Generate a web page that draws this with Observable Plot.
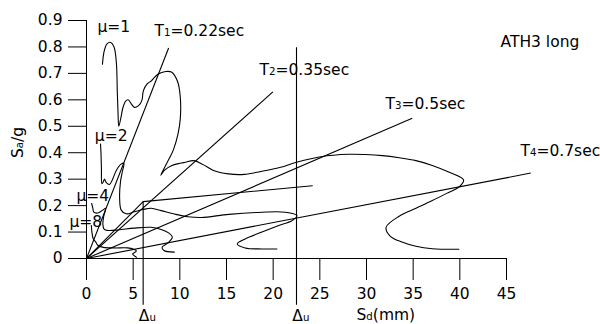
<!DOCTYPE html>
<html><head><meta charset="utf-8">
<script src="https://cdn.jsdelivr.net/npm/d3@7"></script>
<script src="https://cdn.jsdelivr.net/npm/@observablehq/plot@0.6"></script>
<style>body{margin:0;background:#fff}</style>
</head><body><div id="chart"></div>
<script>
// ---- data ----
const xTicks = [0, 5, 10, 15, 20, 25, 30, 35, 40, 45];
const xTickLabels = ["0", "5", "10", "15", "20", "25", "30", "35", "40", "45"];
const yTicks = [0, 0.1, 0.2, 0.3, 0.4, 0.5, 0.6, 0.7, 0.8, 0.9];
const yTickLabels = ["0", "0.1", "0.2", "0.3", "0.4", "0.5", "0.6", "0.7", "0.8", "0.9"];

// demand spectra [Sd (mm), Sa/g]
const mu1 = [[1.71,0.735],[1.9,0.785],[2.2,0.812],[2.6,0.817],[2.95,0.8],[3.2,0.74],[3.3,0.63],[3.38,0.55],[3.46,0.5],[3.7,0.535],[3.9,0.57],[4.2,0.595],[4.45,0.6],[4.8,0.585],[5.1,0.572],[5.4,0.574],[5.75,0.585],[5.95,0.6],[6.1,0.635],[6.5,0.66],[6.95,0.672],[7.65,0.697],[8.5,0.707],[9.1,0.705],[9.75,0.67],[10.05,0.61],[10.05,0.53],[9.8,0.47],[9.3,0.41],[8.6,0.36],[7.95,0.315],[8.4,0.335],[9.1,0.351],[10.0,0.36],[10.6,0.364],[11.5,0.37],[12.5,0.355],[13.6,0.333],[15.2,0.32],[16.9,0.318],[18.8,0.33],[20.8,0.345],[22.4,0.363],[25.1,0.385],[28.1,0.394],[29.9,0.393],[31.7,0.389],[33.5,0.381],[35.3,0.37],[37.05,0.352],[38.8,0.327],[40.4,0.297],[39.9,0.27],[38.8,0.25],[37.05,0.219],[35.3,0.19],[33.5,0.16],[32.1,0.118],[32.5,0.086],[33.8,0.062],[35.3,0.046],[37.05,0.037],[39.9,0.035]];
const mu2 = [[1.5,0.433],[1.55,0.4],[1.6,0.34],[1.65,0.283],[1.8,0.29],[1.93,0.3],[2.1,0.288],[2.46,0.28],[2.8,0.3],[3.18,0.332],[3.7,0.357],[4.0,0.36],[3.85,0.33],[3.64,0.29],[3.55,0.231],[3.72,0.183],[4.25,0.169],[5.14,0.177],[6.04,0.185],[6.93,0.19],[8.0,0.181],[9.43,0.168],[10.86,0.158],[12.3,0.155],[15.25,0.167],[18.8,0.175],[21.3,0.175],[22.55,0.162],[22.0,0.143],[20.6,0.125],[18.8,0.1],[17.0,0.074],[16.15,0.055],[17.0,0.04],[18.8,0.036],[20.4,0.036]];
const mu4 = [[0.55,0.208],[0.68,0.19],[0.78,0.175],[1.2,0.172],[1.7,0.182],[2.05,0.19],[1.85,0.16],[1.75,0.13],[1.9,0.11],[2.3,0.106],[3.4,0.108],[5.1,0.115],[6.9,0.118],[8.0,0.11],[8.8,0.097],[9.2,0.08],[8.7,0.058],[8.1,0.043],[8.3,0.03],[9.4,0.024]];
const mu8 = [[0.52,0.125],[0.58,0.1],[0.72,0.075],[1.0,0.062],[1.2,0.05],[1.8,0.042],[3.0,0.04],[4.4,0.04],[5.0,0.036],[5.35,0.028],[4.95,0.017],[5.35,0.005]];

// capacity curve and period radials
const capacity = [[0, 0], [6.07, 0.215], [24.2, 0.275]];
const periodLabels = ["T_1=0.22sec", "T_2=0.35sec", "T_3=0.5sec", "T_4=0.7sec"];
const periodEndSd = [8.8, 19.97, 34.9, 47.6];
const periodEndSa = [0.796, 0.63, 0.53, 0.323];
const ductilityLabels = ["μ=1", "μ=2", "μ=4", "μ=8"];
const deltaU = [6.07, 22.5];
const deltaUTop = [0.215, 0.797];
const chartTitle = "ATH3 long";
const xLabel = "S_d(mm)";
const yLabel = "S_a/g";
const deltaLabel = "Δ_u";

// ---- chart ----
const FS = "15.5px";
const lineOpts = {x: d => d[0], y: d => d[1], stroke: "#000", strokeWidth: 1.1, curve: "catmull-rom"};
const chart = Plot.plot({
  width: 600, height: 324,
  marginLeft: 86, marginRight: 94, marginTop: 20, marginBottom: 66,
  style: {fontFamily: "DejaVu Sans, Verdana, sans-serif", fontSize: FS, background: "#fff", color: "#000", overflow: "visible"},
  x: {domain: [0, 45], ticks: xTicks, tickFormat: d => xTickLabels[xTicks.indexOf(d)], tickSize: 22, tickPadding: 7, label: null},
  y: {domain: [0, 0.9], ticks: yTicks, tickFormat: d => yTickLabels[yTicks.indexOf(d)], tickSize: 18, tickPadding: 6, label: null},
  marks: [
    Plot.ruleX([0], {stroke: "#000"}),
    Plot.ruleY([0], {stroke: "#000"}),
    Plot.link(periodEndSd, {x1: () => 0, y1: () => 0, x2: d => d, y2: (d, i) => periodEndSa[i], stroke: "#000", strokeWidth: 1.1}),
    Plot.line(capacity, {x: d => d[0], y: d => d[1], stroke: "#000", strokeWidth: 1.1}),
    Plot.ruleX(deltaU, {x: d => d, y1: (d, i) => deltaUTop[i], y2: () => -0.177, stroke: "#000", strokeWidth: 1.1}),
    Plot.line(mu1, lineOpts),
    Plot.line(mu2, lineOpts),
    Plot.line(mu4, lineOpts),
    Plot.line(mu8, lineOpts),
    Plot.text(ductilityLabels, {x: [1.18, 0.89, -1.07, -1.82], y: [0.874, 0.465, 0.238, 0.137], text: d => d, textAnchor: "start"}),
    Plot.text(periodLabels, {x: [7.29, 18.54, 32.04, 46.5], y: [0.862, 0.711, 0.585, 0.408], text: d => d, textAnchor: "start"}),
    Plot.text([chartTitle], {x: () => 44.36, y: () => 0.817, text: d => d, textAnchor: "start"}),
    Plot.text(deltaU, {x: [5.6, 22.05], y: () => -0.219, text: () => deltaLabel, textAnchor: "start"}),
    Plot.text([xLabel], {x: () => 28.93, y: () => -0.212, text: d => d, textAnchor: "start"}),
    Plot.text([yLabel], {x: () => -7.3, y: () => 0.439, text: d => d, rotate: -90})
  ]
});

// uniform font size for axes too
chart.querySelectorAll("[font-size]").forEach(e => e.removeAttribute("font-size"));
chart.querySelectorAll("text").forEach(t => { t.style.fontSize = FS; });

// subscripts: "_x" -> small tspan
const ns = "http://www.w3.org/2000/svg";
chart.querySelectorAll("text").forEach(t => {
  if (t.childElementCount === 0 && t.textContent.includes("_")) {
    const s = t.textContent;
    t.textContent = "";
    s.split(/(_.)/).forEach(part => {
      if (!part) return;
      if (part[0] === "_") {
        const ts = document.createElementNS(ns, "tspan");
        ts.style.fontSize = "66%";
        ts.textContent = part.slice(1);
        t.appendChild(ts);
      } else {
        t.appendChild(document.createTextNode(part));
      }
    });
  }
});
document.getElementById("chart").appendChild(chart);
</script>
</body></html>
